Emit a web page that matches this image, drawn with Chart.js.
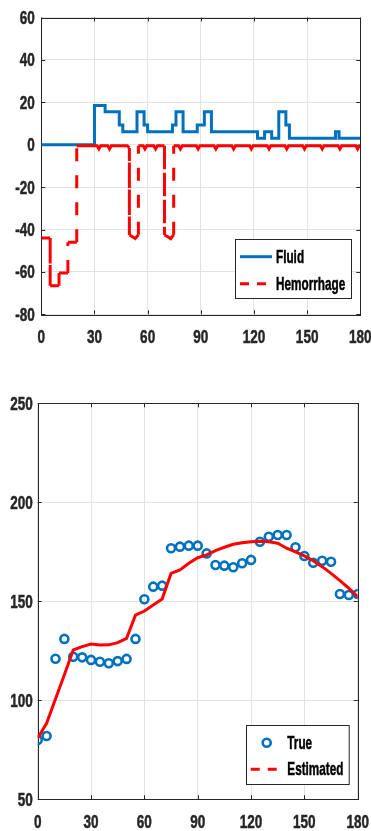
<!DOCTYPE html>
<html>
<head>
<meta charset="utf-8">
<script src="https://cdn.jsdelivr.net/npm/chart.js@4.4.1/dist/chart.umd.min.js"></script>
<style>
  html, body { margin: 0; padding: 0; background: #fff; overflow: hidden; width: 371px; height: 831px; }
  canvas { position: absolute; left: 0; }
  #fluidChart { top: 0; }
  #bpChart { top: 380px; }
</style>
</head>
<body>
<canvas id="fluidChart" width="390" height="355"></canvas>
<canvas id="bpChart" width="390" height="451"></canvas>
<script>
// ---- data, top panel (fluid / hemorrhage rates) ----
const fluidTimes  = [0, 30, 36, 44, 46, 54, 58, 60, 74, 76, 80, 88, 92, 96, 122, 126, 130, 134, 138, 140, 166, 168, 180];
const fluidValues = [0, 18.5, 15.6, 9.3, 6.1, 15.6, 9.3, 6.1, 9.3, 15.6, 6.1, 9.3, 15.6, 6.1, 3.0, 6.1, 3.0, 15.6, 9.3, 3.0, 6.1, 3.0, 3.0];

const hemTimes = [0, 5, 5, 10, 10, 15, 15, 20, 20,
  31.5, 32.5, 33.5, 37.5, 38.5, 39.5, 48.5, 49.7, 49.7, 51, 53, 54.8, 54.8,
  57.5, 58.5, 59.5, 63.5, 64.5, 65.5, 69.5, 69.5, 71, 73, 74.7, 74.7,
  77.5, 78.5, 79.5, 87.5, 88.5, 89.5, 97.5, 98.5, 99.5, 107.5, 108.5, 109.5,
  117.5, 118.5, 119.5, 127.5, 128.5, 129.5, 137.5, 138.5, 139.5, 147.5, 148.5, 149.5,
  157.5, 158.5, 159.5, 167.5, 168.5, 169.5, 177.5, 178.5, 179.5, 180];
const hemValues = [-44, -44, -66.5, -66.5, -60.5, -60.5, -46, -46, -0.5,
  -0.5, -2, -0.5, -0.5, -2, -0.5, -0.5, -1.5, -42.6, -43.2, -44.3, -42.5, -0.5,
  -0.5, -2, -0.5, -0.5, -2, -0.5, -0.5, -42.6, -43.2, -44.3, -42.5, -0.5,
  -0.5, -2, -0.5, -0.5, -2, -0.5, -0.5, -2, -0.5, -0.5, -2, -0.5,
  -0.5, -2, -0.5, -0.5, -2, -0.5, -0.5, -2, -0.5, -0.5, -2, -0.5,
  -0.5, -2, -0.5, -0.5, -2, -0.5, -0.5, -2, -0.5, -0.5];

// ---- data, bottom panel (true vs estimated) ----
const sampleTimes = [0, 5, 10, 15, 20, 25, 30, 35, 40, 45, 50, 55, 60, 65, 70, 75, 80, 85, 90,
  95, 100, 105, 110, 115, 120, 125, 130, 135, 140, 145, 150, 155, 160, 165, 170, 175, 180];
const trueValues = [80, 82, 121, 131, 122, 121.7, 120.4, 119.5, 118.7, 119.8, 120.9, 131, 151, 157.4, 157.9,
  176.8, 177.6, 178.1, 178.1, 174.2, 168.3, 168, 167.2, 169.2, 170.9, 180.1, 182.6, 183.5, 183.5,
  177.3, 172.9, 169.5, 170.5, 170, 153.7, 153.2, 153.7];
const estValues = [80.8, 88.4, 100.7, 112.9, 125.4, 127.1, 128.4, 127.9, 128, 129.1, 131.3, 143, 145.1,
  148.1, 151.2, 164.1, 165.8, 169.2, 172, 173.4, 175.6, 177.3, 178.8, 179.6, 180.1, 180.3, 180.1,
  179.3, 176.8, 175, 172.9, 170.5, 167.5, 164.1, 160.4, 156.6, 152.3];

const xTicks = [0, 30, 60, 90, 120, 150, 180];

const BLUE = '#0072BD';
const RED = '#FF0000';
const AXIS = '#262626';
const FONT = "bold 18.5px 'Liberation Sans', Arial, sans-serif";
const TICK_SQUEEZE = 0.73;   // the original uses a narrow bold face
const LEGEND_SQUEEZE = 0.635;

function toPoints(xs, ys) {
  return xs.map((x, i) => ({ x: x, y: ys[i] }));
}

// text squeezed horizontally, to mimic the narrow MATLAB font
function narrowText(ctx, text, x, y, align, squeeze) {
  ctx.save();
  ctx.translate(x, y);
  ctx.scale(squeeze, 1);
  ctx.font = FONT;
  ctx.textAlign = align;
  ctx.textBaseline = 'middle';
  ctx.strokeStyle = ctx.fillStyle;
  ctx.lineWidth = 0.5;
  ctx.fillText(text, 0, 0);
  ctx.strokeText(text, 0, 0);
  ctx.restore();
}

// frame round the plot area, inward tick marks on all four sides, tick labels
const framePlugin = {
  id: 'frame',
  beforeDatasetsDraw(chart) {
    const { ctx, chartArea: a, scales } = chart;
    const len = 4;
    ctx.save();
    ctx.strokeStyle = AXIS;
    ctx.lineWidth = 1;
    ctx.beginPath();
    scales.x.ticks.forEach(t => {
      const px = Math.round(scales.x.getPixelForValue(t.value)) + 0.5;
      ctx.moveTo(px, a.bottom); ctx.lineTo(px, a.bottom - len);
      ctx.moveTo(px, a.top); ctx.lineTo(px, a.top + len);
    });
    scales.y.ticks.forEach(t => {
      const py = Math.round(scales.y.getPixelForValue(t.value)) + 0.5;
      ctx.moveTo(a.left, py); ctx.lineTo(a.left + len, py);
      ctx.moveTo(a.right, py); ctx.lineTo(a.right - len, py);
    });
    ctx.stroke();
    ctx.strokeRect(Math.round(a.left) + 0.5, Math.round(a.top) + 0.5,
      Math.round(a.right - a.left), Math.round(a.bottom - a.top));
    ctx.restore();
  },
  afterDraw(chart, args, opts) {
    const { ctx, chartArea: a, scales } = chart;
    ctx.save();
    ctx.fillStyle = AXIS;
    scales.x.ticks.forEach(t => {
      narrowText(ctx, String(t.value), scales.x.getPixelForValue(t.value), a.bottom + opts.xOffset, 'center', TICK_SQUEEZE);
    });
    scales.y.ticks.forEach(t => {
      narrowText(ctx, String(t.value), a.left - opts.yPad, scales.y.getPixelForValue(t.value) + 1.5, 'right', TICK_SQUEEZE);
    });
    ctx.restore();
  }
};

// MATLAB-style legend box inside the plot area (bottom right)
const boxLegendPlugin = {
  id: 'boxLegend',
  afterDraw(chart, args, opts) {
    if (!opts.items) return;
    const { ctx, chartArea: a } = chart;
    const x0 = Math.round(a.right - opts.right - opts.width);
    const y0 = Math.round(a.bottom - opts.bottom - opts.height);
    ctx.save();
    ctx.fillStyle = '#fff';
    ctx.fillRect(x0, y0, opts.width, opts.height);
    ctx.strokeStyle = AXIS;
    ctx.lineWidth = 1;
    ctx.strokeRect(x0 + 0.5, y0 + 0.5, opts.width, opts.height);
    opts.items.forEach((item, i) => {
      const ds = chart.data.datasets[item.dataset];
      const y = y0 + opts.rowTop + i * opts.rowGap;
      ctx.strokeStyle = ds.borderColor;
      if (item.marker) {
        ctx.lineWidth = ds.borderWidth;
        ctx.setLineDash([]);
        ctx.beginPath();
        ctx.arc(x0 + opts.markX, y, ds.pointRadius, 0, Math.PI * 2);
        ctx.stroke();
      } else {
        ctx.lineWidth = 3;
        ctx.setLineDash(item.dash || []);
        ctx.beginPath();
        ctx.moveTo(x0 + opts.lineX0, y);
        ctx.lineTo(x0 + opts.lineX1, y);
        ctx.stroke();
      }
      ctx.setLineDash([]);
      ctx.fillStyle = '#000';
      narrowText(ctx, item.text, x0 + opts.textX, y + 1, 'left', LEGEND_SQUEEZE);
    });
    ctx.restore();
  }
};

function makeOptions(cfg) {
  return {
    responsive: false,
    animation: false,
    devicePixelRatio: 1,
    layout: { padding: { top: cfg.top, right: cfg.right, left: 0, bottom: 0 } },
    plugins: {
      legend: { display: false },
      tooltip: { enabled: false },
      frame: { xOffset: 24, yPad: cfg.yPad },
      boxLegend: cfg.legend
    },
    scales: {
      x: {
        type: 'linear',
        min: 0,
        max: 180,
        afterBuildTicks: s => { s.ticks = xTicks.map(v => ({ value: v })); },
        afterFit: s => { s.height = cfg.xHeight; },
        grid: { color: '#e2e2e2', lineWidth: 1, drawTicks: false },
        border: { display: false },
        ticks: { display: false }
      },
      y: {
        min: cfg.yMin,
        max: cfg.yMax,
        afterFit: s => { s.width = cfg.left; },
        grid: { color: '#e2e2e2', lineWidth: 1, drawTicks: false },
        border: { display: false },
        ticks: { display: false, stepSize: cfg.yStep }
      }
    }
  };
}

Chart.register(framePlugin, boxLegendPlugin);

// top panel
new Chart(document.getElementById('fluidChart').getContext('2d'), {
  type: 'line',
  data: {
    datasets: [{
      label: 'Hemorrhage',
      data: toPoints(hemTimes, hemValues),
      borderColor: RED,
      borderWidth: 3,
      pointRadius: 0,
      borderDash: [],
      order: 0,
      segment: {
        // long vertical jumps show as dashes, the dense flat parts look solid
        borderDash: c => c.p0.parsed.x === c.p1.parsed.x ? [13, 14] : undefined
      }
    }, {
      label: 'Fluid',
      data: toPoints(fluidTimes, fluidValues),
      borderColor: BLUE,
      borderWidth: 3,
      pointRadius: 0,
      stepped: true,
      order: 1
    }]
  },
  options: makeOptions({
    top: 17.5, right: 29.7, left: 41.3, xHeight: 40.7,
    yMin: -80, yMax: 60, yStep: 20, yPad: 6.5,
    legend: {
      right: 9.3, bottom: 16, width: 116, height: 59,
      rowTop: 17.7, rowGap: 27, lineX0: 5, lineX1: 37, textX: 41,
      items: [
        { dataset: 1, text: 'Fluid' },
        { dataset: 0, text: 'Hemorrhage', dash: [9, 8] }
      ]
    }
  })
});

// bottom panel
new Chart(document.getElementById('bpChart').getContext('2d'), {
  type: 'line',
  data: {
    datasets: [{
      label: 'Estimated',
      data: toPoints(sampleTimes, estValues),
      borderColor: RED,
      borderWidth: 3,
      pointRadius: 0,
      order: 0
    }, {
      label: 'True',
      data: toPoints(sampleTimes, trueValues),
      showLine: false,
      borderColor: BLUE,
      backgroundColor: 'rgba(0,0,0,0)',
      borderWidth: 2.6,
      pointRadius: 4,
      pointStyle: 'circle',
      order: 1
    }]
  },
  options: makeOptions({
    top: 23.3, right: 32.3, left: 37.7, xHeight: 31.7,
    yMin: 50, yMax: 250, yStep: 50, yPad: 5,
    legend: {
      right: 9, bottom: 15.3, width: 102.7, height: 59,
      rowTop: 17.7, rowGap: 26.6, lineX0: 4.7, lineX1: 31.3, markX: 20.7, textX: 41.3,
      items: [
        { dataset: 1, text: 'True', marker: true },
        { dataset: 0, text: 'Estimated', dash: [9, 8] }
      ]
    }
  })
});
</script>
</body>
</html>
